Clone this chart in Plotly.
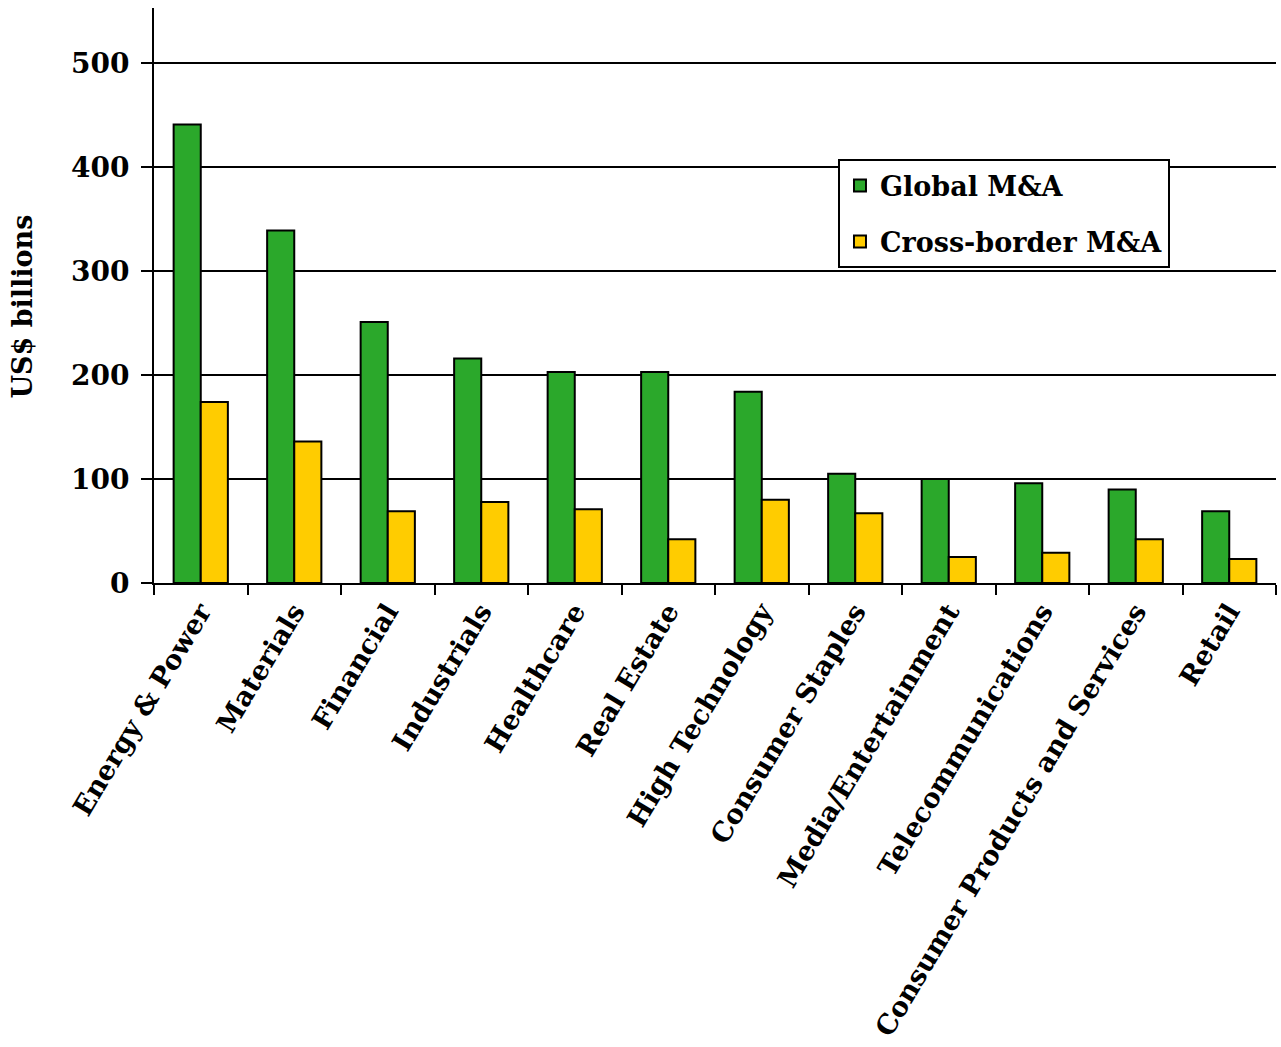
import plotly.graph_objects as go

# Sector names along the category axis
industries = [
    "Energy & Power", "Materials", "Financial", "Industrials", "Healthcare",
    "Real Estate", "High Technology", "Consumer Staples", "Media/Entertainment",
    "Telecommunications", "Consumer Products and Services", "Retail",
]

# Deal value, US$ billions
global_ma = [441, 339, 251, 216, 203, 203, 184, 105, 100, 96, 90, 69]
cross_border_ma = [174, 136, 69, 78, 71, 42, 80, 67, 25, 29, 42, 23]

y_ticks = [0, 100, 200, 300, 400, 500]

FONT = "DejaVu Serif"
GREEN = "#2ba82b"
YELLOW = "#ffcc00"

fig = go.Figure()
fig.add_trace(go.Bar(
    name="Global M&A", x=industries, y=global_ma, legendgroup="g",
    marker=dict(color=GREEN, line=dict(color="black", width=2)),
))
fig.add_trace(go.Bar(
    name="Cross-border M&A", x=industries, y=cross_border_ma, legendgroup="c",
    marker=dict(color=YELLOW, line=dict(color="black", width=2)),
))

fig.update_layout(
    width=1281, height=1047,
    margin=dict(l=154, r=5, t=8, b=460),
    paper_bgcolor="white", plot_bgcolor="white",
    barmode="group", bargap=0.42, bargroupgap=0,
    font=dict(family=FONT, color="black", size=26, weight="bold"),
    showlegend=True,
    legend=dict(
        x=0.6096, y=0.7366, xanchor="left", yanchor="top",
        bgcolor="white", bordercolor="black", borderwidth=2,
        font=dict(family=FONT, size=27, color="black", weight="bold"),
        itemsizing="constant", tracegroupgap=18, itemwidth=30,
    ),
    annotations=[dict(
        text="US$ billions", textangle=-90,
        xref="paper", yref="paper", x=-0.118, y=0.48,
        xanchor="center", yanchor="middle", showarrow=False,
        font=dict(family=FONT, size=27, color="black", weight="bold"),
    )],
)

fig.update_xaxes(
    showline=True, linecolor="black", linewidth=2,
    ticks="outside", tickson="boundaries", ticklen=10, tickwidth=2, tickcolor="black",
    tickangle=-59,
    tickfont=dict(family=FONT, size=27, color="black", weight="bold"),
    showgrid=False,
)
fig.update_yaxes(
    range=[0, 553], tickvals=y_ticks,
    showline=True, linecolor="black", linewidth=2,
    ticks="outside", ticklen=11, tickwidth=2, tickcolor="black",
    ticklabelstandoff=6,
    tickfont=dict(family=FONT, size=28, color="black", weight="bold"),
    showgrid=True, gridcolor="black", gridwidth=2,
    zeroline=False,
)

fig.write_html("out.html")
